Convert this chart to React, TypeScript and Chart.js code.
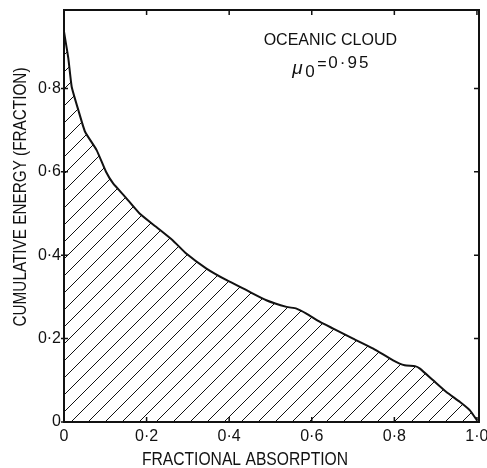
import { useEffect, useRef } from 'react';
import { Chart, registerables } from 'chart.js';

Chart.register(...registerables);

// Fractional absorption (x) against cumulative energy fraction (y)
const ABSORPTION = [
  0, 0.0105, 0.0186, 0.0347, 0.051, 0.079, 0.1017, 0.119, 0.148, 0.183, 0.223,
  0.263, 0.296, 0.345, 0.394, 0.442, 0.49, 0.539, 0.563, 0.587, 0.62, 0.652,
  0.7, 0.749, 0.797, 0.825, 0.85, 0.862, 0.894, 0.926, 0.959, 0.983, 1.0,
];
const ENERGY = [
  0.936, 0.872, 0.804, 0.748, 0.696, 0.652, 0.6, 0.572, 0.54, 0.5, 0.468,
  0.436, 0.404, 0.368, 0.34, 0.316, 0.292, 0.276, 0.272, 0.26, 0.24, 0.224,
  0.2, 0.176, 0.148, 0.136, 0.134, 0.128, 0.1, 0.072, 0.048, 0.028, 0.004,
];
const X_TICKS = [0, 0.2, 0.4, 0.6, 0.8, 1.0];
const Y_TICKS = [0, 0.2, 0.4, 0.6, 0.8];

const TITLE_LINE = 'OCEANIC CLOUD';
const MU_VALUE = '0·95';
const X_TITLE = 'FRACTIONAL ABSORPTION';
const Y_TITLE = 'CUMULATIVE ENERGY (FRACTION)';

const FONT = '"Liberation Sans", Arial, sans-serif';
const INK = '#111111';

// Decimal point printed as a raised dot
const fmt = (v: number) => {
  if (v === 0) return '0';
  return v.toFixed(1).replace('.', '·');
};

function makeHatch(): CanvasPattern | string {
  const size = 17;
  const c = document.createElement('canvas');
  c.width = size;
  c.height = size;
  const g = c.getContext('2d');
  if (!g) return 'rgba(0,0,0,0.1)';
  g.strokeStyle = INK;
  g.lineWidth = 1;
  g.beginPath();
  g.moveTo(-2, size + 2);
  g.lineTo(size + 2, -2);
  g.moveTo(-2, 2);
  g.lineTo(2, -2);
  g.moveTo(size - 2, size + 2);
  g.lineTo(size + 2, size - 2);
  g.stroke();
  const p = g.createPattern(c, 'repeat');
  return p ?? 'rgba(0,0,0,0.1)';
}

// Condensed lettering for the axis titles
function drawNarrow(ctx: CanvasRenderingContext2D, text: string, x: number, y: number, rot: number, sx: number) {
  ctx.save();
  ctx.translate(x, y);
  ctx.rotate(rot);
  ctx.scale(sx, 1);
  ctx.textAlign = 'center';
  ctx.textBaseline = 'alphabetic';
  ctx.font = `18px ${FONT}`;
  ctx.fillText(text, 0, 0);
  ctx.restore();
}

const framePlugin = {
  id: 'frameAndNotes',
  afterDatasetsDraw(chart: any) {
    const { ctx, chartArea } = chart;
    const xs = chart.scales.x;
    const ys = chart.scales.y;
    const { left, right, top, bottom } = chartArea;
    ctx.save();
    ctx.strokeStyle = INK;
    ctx.lineWidth = 2;
    ctx.strokeRect(left, top, right - left, bottom - top);

    // inward tick marks on all four sides
    ctx.lineWidth = 1.5;
    ctx.beginPath();
    X_TICKS.forEach((v) => {
      const px = xs.getPixelForValue(v);
      ctx.moveTo(px, bottom);
      ctx.lineTo(px, bottom - 5);
      ctx.moveTo(px, top);
      ctx.lineTo(px, top + 5);
    });
    Y_TICKS.forEach((v) => {
      const py = ys.getPixelForValue(v);
      ctx.moveTo(left - 3, py);
      ctx.lineTo(left + 4, py);
      ctx.moveTo(right, py);
      ctx.lineTo(right - 5, py);
    });
    ctx.stroke();

    ctx.fillStyle = INK;

    // axis titles
    drawNarrow(ctx, X_TITLE, 245, 465, 0, 0.87);
    drawNarrow(ctx, Y_TITLE, 26, 197, -Math.PI / 2, 0.85);

    // case annotation
    ctx.textBaseline = 'alphabetic';
    ctx.textAlign = 'center';
    ctx.font = `16px ${FONT}`;
    ctx.fillText(TITLE_LINE, xs.getPixelForValue(0.645), ys.getPixelForValue(0.904));

    ctx.textAlign = 'left';
    const mx = xs.getPixelForValue(0.553);
    const by = ys.getPixelForValue(0.849);
    ctx.font = `italic 19px ${FONT}`;
    ctx.fillText('μ', mx, by + 6);
    ctx.font = `17px ${FONT}`;
    ctx.fillText('0', mx + 13, by + 9);
    ctx.font = `16px ${FONT}`;
    ctx.fillText('=', mx + 25, by + 1);
    ctx.font = `17px ${FONT}`;
    (ctx as any).letterSpacing = '2px';
    ctx.fillText(MU_VALUE, mx + 36, by);
    ctx.restore();
  },
};

export default function App() {
  const ref = useRef<HTMLCanvasElement>(null);

  useEffect(() => {
    if (!ref.current) return;
    const points = ABSORPTION.map((x, i) => ({ x, y: ENERGY[i] }));
    const chart = new Chart(ref.current, {
      type: 'line',
      data: {
        datasets: [
          {
            data: points,
            borderColor: INK,
            borderWidth: 2,
            pointRadius: 0,
            tension: 0.15,
            fill: 'origin',
            backgroundColor: makeHatch() as any,
          },
        ],
      },
      options: {
        animation: false,
        responsive: false,
        events: [],
        layout: { padding: { top: 10, right: 8, left: 0, bottom: 0 } },
        plugins: {
          legend: { display: false },
          tooltip: { enabled: false },
        },
        scales: {
          x: {
            type: 'linear',
            min: 0,
            max: 1.005,
            grid: { display: false, drawTicks: false },
            border: { display: false },
            ticks: {
              color: INK,
              padding: 5,
              maxRotation: 0,
              font: { family: FONT, size: 16 },
              callback: (v: any) => fmt(Number(v)),
            },
            afterBuildTicks: (s: any) => {
              s.ticks = X_TICKS.map((value) => ({ value }));
            },
            afterFit: (s: any) => {
              s.height = 46;
              s.paddingLeft = 0;
              s.paddingRight = 0;
            },
          },
          y: {
            type: 'linear',
            min: 0,
            max: 0.988,
            grid: { display: false, drawTicks: false },
            border: { display: false },
            ticks: {
              color: INK,
              padding: 3,
              font: { family: FONT, size: 16 },
              callback: (v: any) => fmt(Number(v)),
            },
            afterBuildTicks: (s: any) => {
              s.ticks = Y_TICKS.map((value) => ({ value }));
            },
            afterFit: (s: any) => {
              s.width = 64;
              s.paddingTop = 0;
              s.paddingBottom = 0;
            },
          },
        },
      },
      plugins: [framePlugin],
    });
    return () => chart.destroy();
  }, []);

  return (
    <div style={{ position: 'fixed', left: 0, top: 0, width: 487, height: 468, background: '#fff' }}>
      <canvas ref={ref} width={487} height={468} style={{ display: 'block' }} />
    </div>
  );
}
